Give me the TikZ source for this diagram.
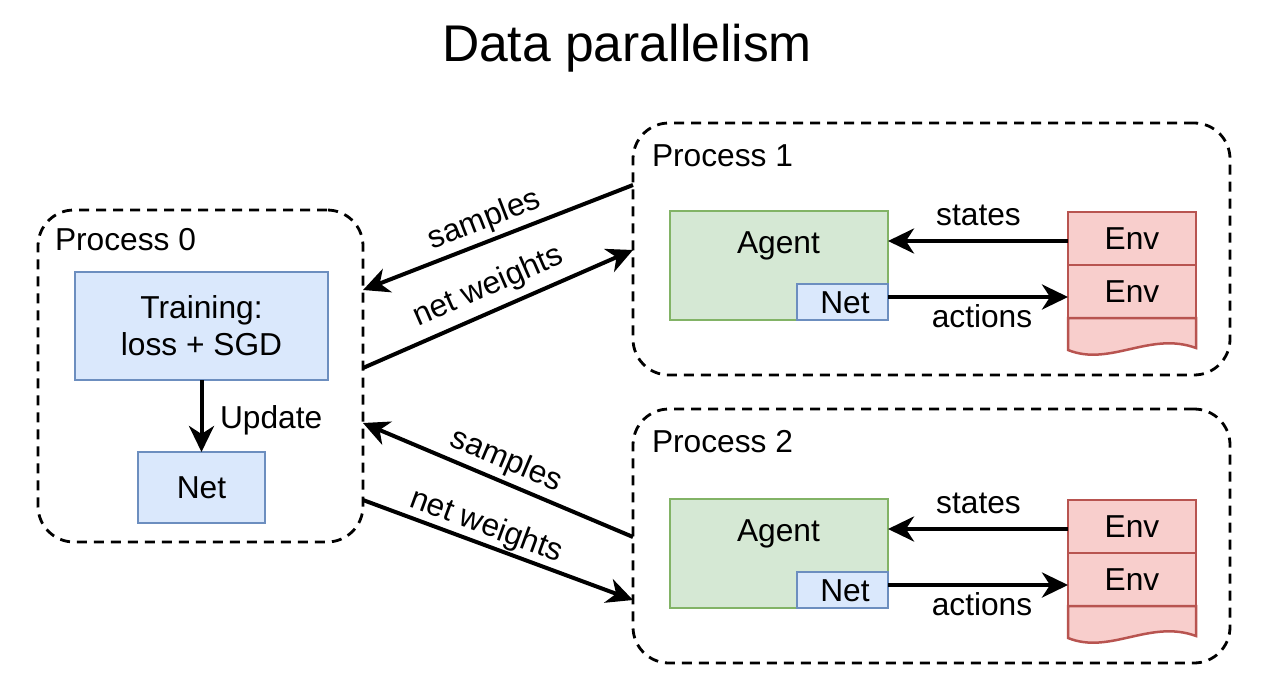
\documentclass[tikz,border=0pt]{standalone}
\usepackage{fontspec}
\setmainfont{Liberation Sans}
\usetikzlibrary{arrows.meta,calc}
\definecolor{bfill}{HTML}{DAE8FC}
\definecolor{bstroke}{HTML}{6C8EBF}
\definecolor{gfill}{HTML}{D5E8D4}
\definecolor{gstroke}{HTML}{82B366}
\definecolor{rfill}{HTML}{F8CECC}
\definecolor{rstroke}{HTML}{B85450}
\tikzset{
  proc/.style={draw, line width=2.8pt, dash pattern=on 10pt off 7pt, rounded corners=36pt, inner sep=0pt, outer sep=0pt},
  bluebox/.style={draw=bstroke, fill=bfill, line width=2.5pt, inner sep=0pt, outer sep=0pt, font=\fontsize{31.7}{37}\selectfont, align=center},
  greenbox/.style={draw=gstroke, fill=gfill, line width=2.5pt, inner sep=0pt, outer sep=0pt},
  envcell/.style={draw=rstroke, fill=rfill, line width=2.5pt, inner sep=0pt, outer sep=0pt, minimum width=128pt, minimum height=53pt, font=\fontsize{31.7}{37}\selectfont, text height=22.7pt, text depth=0pt},
  lbl/.style={font=\fontsize{31.7}{37}\selectfont, inner sep=0pt, outer sep=0pt},
  arr/.style={line width=4pt, -{Stealth[length=26pt,width=25pt,inset=8pt]}},
  arrback/.style={line width=4pt, {Stealth[length=26pt,width=25pt,inset=8pt]}-},
}
\begin{document}
\begin{tikzpicture}[x=1pt,y=-1pt]
\useasboundingbox (0,0) rectangle (1276,690);
% title
\node[lbl, font=\fontsize{51.6}{60}\selectfont] (title) at (627,48) {Data parallelism};

% process frames
\node[proc, minimum width=325pt, minimum height=332pt] (p0) at (200.5,376) {};
\node[proc, minimum width=597pt, minimum height=252pt] (p1) at (931.5,249) {};
\node[proc, minimum width=597pt, minimum height=254pt] (p2) at (931.5,536) {};
\node[lbl, anchor=base west] (p0l) at (55,250) {Process 0};
\node[lbl, anchor=base west] (p1l) at (652,166) {Process 1};
\node[lbl, anchor=base west] (p2l) at (652,452) {Process 2};

% process 0 content
\node[bluebox, minimum width=253pt, minimum height=108pt] (tr) at (201.5,326) {Training:\\loss + SGD};
\node[bluebox, minimum width=127pt, minimum height=71pt, text height=22.7pt, text depth=0pt] (n0) at (201.5,487.5) {Net};
\draw[arr] (tr.south) -- (n0.north);
\node[lbl, anchor=base west] (upd) at (220,428) {Update};

% process 1 content
\node[greenbox, minimum width=218pt, minimum height=109pt] (a1) at (779,265.5) {};
\node[lbl, anchor=base] (a1l) at (778.5,253) {Agent};
\node[bluebox, minimum width=91pt, minimum height=36pt, text height=22.7pt, text depth=0pt] (n1) at (842.5,302) {\hspace{5pt}Net};
\node[envcell] (e1a) at (1132,238.5) {Env};
\node[envcell] (e1b) at (1132,291.5) {Env};
\draw[draw=rstroke, fill=rfill, line width=2.5pt]
  (e1b.south west) -- ($(e1b.south west)+(0,32)$)
  .. controls ($(e1b.south west)+(42,49)$) and ($(e1b.south east)+(-46,13)$) .. ($(e1b.south east)+(0,30)$)
  -- (e1b.south east) -- cycle;
\draw[arr] (e1a.west |- 0,241) -- (a1.east |- 0,241);
\draw[arr] (n1.east |- 0,297) -- (e1b.west |- 0,297);
\node[lbl, anchor=base] (st1) at (978.5,225) {states};
\node[lbl, anchor=base] (ac1) at (982,327) {actions};

% process 2 content
\node[greenbox, minimum width=218pt, minimum height=109pt] (a2) at (779,553.5) {};
\node[lbl, anchor=base] (a2l) at (778.5,541) {Agent};
\node[bluebox, minimum width=91pt, minimum height=36pt, text height=22.7pt, text depth=0pt] (n2) at (842.5,590) {\hspace{5pt}Net};
\node[envcell] (e2a) at (1132,526.5) {Env};
\node[envcell] (e2b) at (1132,579.5) {Env};
\draw[draw=rstroke, fill=rfill, line width=2.5pt]
  (e2b.south west) -- ($(e2b.south west)+(0,32)$)
  .. controls ($(e2b.south west)+(42,49)$) and ($(e2b.south east)+(-46,13)$) .. ($(e2b.south east)+(0,30)$)
  -- (e2b.south east) -- cycle;
\draw[arr] (e2a.west |- 0,529) -- (a2.east |- 0,529);
\draw[arr] (n2.east |- 0,585) -- (e2b.west |- 0,585);
\node[lbl, anchor=base] (st2) at (978.5,513) {states};
\node[lbl, anchor=base] (ac2) at (982,615) {actions};

% exchanges
\draw[arrback] (p0.east |- 0,290) -- node[lbl, sloped, above=6pt, pos=0.477] (s1) {samples} (p1.west |- 0,185);
\draw[arr] (p0.east |- 0,368) -- node[lbl, sloped, above=9pt, pos=0.5] (w1) {net weights} (p1.west |- 0,250);
\draw[arrback] (p0.east |- 0,423) -- node[lbl, sloped, above=6pt, pos=0.5] (s2) {samples} (p2.west |- 0,537);
\draw[arr] (p0.east |- 0,500) -- node[lbl, sloped, above=3pt, pos=0.434] (w2) {net weights} (p2.west |- 0,600);
\end{tikzpicture}
\end{document}
